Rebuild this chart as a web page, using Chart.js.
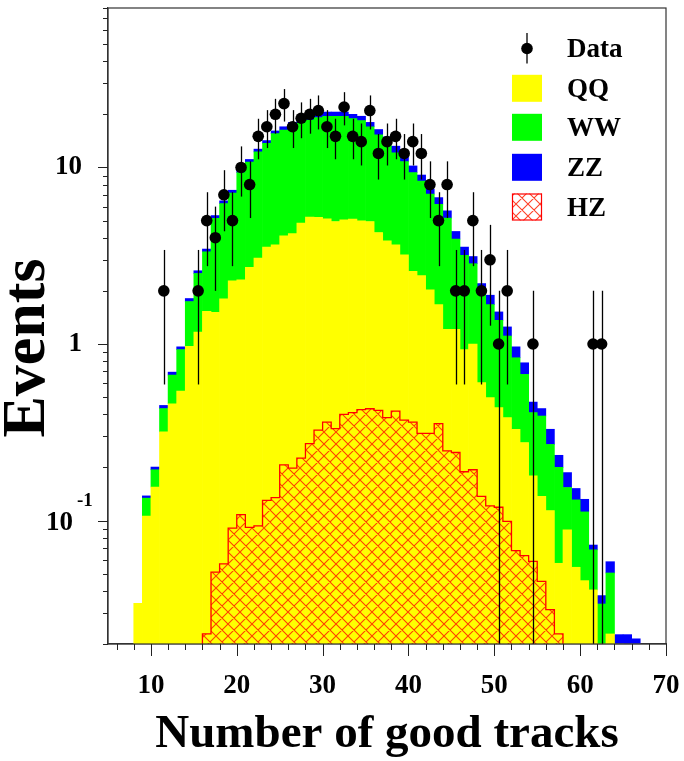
<!DOCTYPE html>
<html><head><meta charset="utf-8">
<script src="https://cdn.jsdelivr.net/npm/chart.js@4.4.1/dist/chart.umd.min.js"></script>
<style>html,body{margin:0;padding:0;background:#fff;}canvas{display:block;}</style>
</head><body>
<canvas id="c" width="684" height="761"></canvas>
<script>
// ---- data ----
const binCenters = [8.5, 9.5, 10.5, 11.5, 12.5, 13.5, 14.5, 15.5, 16.5, 17.5, 18.5, 19.5, 20.5, 21.5, 22.5, 23.5, 24.5, 25.5, 26.5, 27.5, 28.5, 29.5, 30.5, 31.5, 32.5, 33.5, 34.5, 35.5, 36.5, 37.5, 38.5, 39.5, 40.5, 41.5, 42.5, 43.5, 44.5, 45.5, 46.5, 47.5, 48.5, 49.5, 50.5, 51.5, 52.5, 53.5, 54.5, 55.5, 56.5, 57.5, 58.5, 59.5, 60.5, 61.5, 62.5, 63.5, 64.5, 65.5, 66.5];
const qqValues = [0.034, 0.106, 0.155, 0.318, 0.459, 0.541, 0.97, 1.17, 1.53, 1.51,
  1.80, 2.28, 2.31, 2.72, 3.07, 3.54, 3.65, 4.10, 4.22, 4.84,
  5.23, 5.21, 5.12, 4.94, 5.05, 5.10, 4.98, 4.94, 4.28, 3.84,
  3.65, 3.20, 2.58, 2.44, 2.03, 1.67, 1.21, 1.21, 0.93, 1.00,
  0.604, 0.497, 0.436, 0.383, 0.329, 0.277, 0.179, 0.137, 0.114, 0.0573,
  0.0887, 0.0544, 0.0457, 0.0405, 0.012, 0.0228, 0.008, 0.005, 0.004];
const wwValues = [0, 0.028, 0.039, 0.113, 0.208, 0.389, 0.77, 1.34, 1.80, 3.64,
  4.44, 4.89, 7.03, 7.99, 9.18, 10.16, 11.89, 12.2, 12.93, 13.02,
  13.29, 13.97, 14.35, 14.53, 14.42, 13.80, 13.45, 12.07, 11.02, 10.06,
  8.45, 7.60, 6.77, 5.94, 5.03, 4.52, 3.96, 2.72, 2.25, 1.85,
  1.376, 1.173, 0.924, 0.727, 0.507, 0.396, 0.230, 0.254, 0.156, 0.143,
  0.0653, 0.0766, 0.0663, 0.0278, 0.0217, 0.0277, 0.004, 0.005, 0.004];
const zzValues = [0, 0.004, 0.007, 0.018, 0.026, 0.034, 0.07, 0.09, 0.12, 0.19,
  0.23, 0.26, 0.34, 0.39, 0.45, 0.50, 0.56, 0.70, 0.85, 1.04,
  1.08, 1.12, 1.13, 1.13, 1.13, 1.10, 1.07, 0.99, 1.10, 1.00,
  1.10, 0.90, 0.85, 0.68, 0.48, 0.56, 0.51, 0.41, 0.36, 0.28,
  0.22, 0.22, 0.16, 0.14, 0.128, 0.110, 0.060, 0.040, 0.059, 0.034,
  0.033, 0.021, 0.020, 0.0044, 0.0039, 0.008, 0.0106, 0.0126, 0.0134];
const hzBinCenters = [16.5, 17.5, 18.5, 19.5, 20.5, 21.5, 22.5, 23.5, 24.5, 25.5, 26.5, 27.5, 28.5, 29.5, 30.5, 31.5, 32.5, 33.5, 34.5, 35.5, 36.5, 37.5, 38.5, 39.5, 40.5, 41.5, 42.5, 43.5, 44.5, 45.5, 46.5, 47.5, 48.5, 49.5, 50.5, 51.5, 52.5, 53.5, 54.5, 55.5, 56.5, 57.5];
const hzValues = [0.0228, 0.0510, 0.0568, 0.0907, 0.108, 0.0916, 0.0934, 0.130, 0.135, 0.207,
  0.198, 0.226, 0.273, 0.325, 0.361, 0.332, 0.400, 0.409, 0.425, 0.430,
  0.421, 0.383, 0.417, 0.371, 0.361, 0.312, 0.312, 0.354, 0.248, 0.243,
  0.189, 0.194, 0.137, 0.121, 0.119, 0.0990, 0.0676, 0.0633, 0.0588, 0.0453,
  0.0313, 0.0228];
const dataX = [11.5, 15.5, 16.5, 17.5, 18.5, 19.5, 20.5, 21.5, 22.5, 23.5, 24.5, 25.5, 26.5, 27.5, 28.5, 29.5, 30.5, 31.5, 32.5, 33.5, 34.5, 35.5, 36.5, 37.5, 38.5, 39.5, 40.5, 41.5, 42.5, 43.5, 44.5, 45.5, 46.5, 47.5, 48.5, 49.5, 50.5, 51.5, 54.5, 61.5, 62.5];
const dataY = [2, 2, 5, 4, 7, 5, 10, 8, 15, 17, 20, 23, 17, 19, 20, 21, 17, 15, 22, 15, 14, 21, 12, 14, 15, 12, 14, 12, 8, 5, 8, 2, 2, 5, 2, 3, 1, 2, 1, 1, 1];
const dataErr = [1.41, 1.41, 2.24, 2, 2.65, 2.24, 3.16, 2.83, 3.87, 4.12, 4.47, 4.80, 4.12, 4.36, 4.47, 4.58, 4.12, 3.87, 4.69, 3.87, 3.74, 4.58, 3.46, 3.74, 3.87, 3.46, 3.74, 3.46, 2.83, 2.24, 2.83, 1.41, 1.41, 2.24, 1.41, 1.73, 1, 1.41, 1, 1, 1];
const xTickLabels = [10, 20, 30, 40, 50, 60, 70];
const yTickLabels = [0.1, 1, 10];
const legendLabels = ['Data', 'QQ', 'WW', 'ZZ', 'HZ'];

// ---- styling ----
const FONT = 'Liberation Serif';
const yMin = 0.02, yMax = 80, xMin = 5, xMax = 70;
const canvas = document.getElementById('c');
const ctx = canvas.getContext('2d');

function makeHatch(size, color, lw) {
  const c = document.createElement('canvas');
  c.width = size; c.height = size;
  const g = c.getContext('2d');
  g.strokeStyle = color; g.lineWidth = lw;
  g.beginPath();
  for (const k of [-size, 0, size]) {
    g.moveTo(k, 0); g.lineTo(k + size, size);
    g.moveTo(k + size, 0); g.lineTo(k, size);
  }
  g.stroke();
  return ctx.createPattern(c, 'repeat');
}
const hatch = makeHatch(12, 'rgba(255,30,0,0.85)', 1.1);

const toXY = (xs, ys) => xs.map((x, i) => ({x: x, y: ys[i]}));
const hzPoints = [{x: hzBinCenters[0] - 0.5, y: yMin}]
  .concat(hzBinCenters.map((c, i) => ({x: c - 0.5, y: hzValues[i]})))
  .concat([{x: hzBinCenters[hzBinCenters.length - 1] + 0.5, y: yMin}]);

function noPad(s) { s.paddingTop = 0; s.paddingBottom = 0; s.paddingLeft = 0; s.paddingRight = 0; }

const decor = {
  id: 'decor',
  beforeDatasetDraw(chart, args) {
    const ds = chart.data.datasets[args.index];
    if (ds.label !== 'Data') return;
    const {ctx, chartArea: a, scales: {x, y}} = chart;
    ctx.save();
    ctx.beginPath(); ctx.rect(a.left, a.top, a.right - a.left, a.bottom - a.top); ctx.clip();
    ctx.strokeStyle = '#000'; ctx.lineWidth = 1.3;
    dataX.forEach((xv, i) => {
      const px = Math.round(x.getPixelForValue(xv)) + 0.5;
      const lo = dataY[i] - dataErr[i];
      const yTop = y.getPixelForValue(dataY[i] + dataErr[i]);
      const yBot = lo > 0 ? y.getPixelForValue(lo) : a.bottom;
      ctx.beginPath(); ctx.moveTo(px, yTop); ctx.lineTo(px, yBot); ctx.stroke();
    });
    ctx.restore();
  },
  afterDraw(chart) {
    const {ctx, chartArea: a, scales: {x, y}} = chart;
    ctx.save();
    ctx.strokeStyle = '#333'; ctx.lineWidth = 1.2;
    ctx.strokeRect(a.left, a.top, a.right - a.left, a.bottom - a.top);
    ctx.strokeStyle = '#222'; ctx.lineWidth = 1;
    ctx.beginPath();
    for (let e = -2; e <= 1; e++) {
      for (let m = 1; m <= 9; m++) {
        const v = m * Math.pow(10, e);
        if (v < yMin * 0.999 || v > yMax * 1.001) continue;
        const py = Math.round(y.getPixelForValue(v)) + 0.5;
        const len = m === 1 ? 10 : 5;
        ctx.moveTo(a.left - len, py); ctx.lineTo(a.left, py);
      }
    }
    for (let v = 6; v <= xMax; v += 2) {
      const px = Math.round(x.getPixelForValue(v)) + 0.5;
      const len = v % 10 === 0 ? 12 : 6;
      ctx.moveTo(px, a.bottom); ctx.lineTo(px, a.bottom + len);
    }
    ctx.stroke();
    ctx.fillStyle = '#000';
    const p01 = y.getPixelForValue(yTickLabels[0]);
    ctx.font = 'bold 27px "' + FONT + '"';
    ctx.textAlign = 'right'; ctx.textBaseline = 'middle';
    ctx.fillText('10', 73, p01 + 2);
    ctx.font = 'bold 19px "' + FONT + '"';
    ctx.textAlign = 'left';
    ctx.fillText('-1', 77, p01 - 19);
    ctx.save();
    ctx.translate(44, 348); ctx.rotate(-Math.PI / 2);
    ctx.font = 'bold 62px "' + FONT + '"';
    ctx.textAlign = 'center'; ctx.textBaseline = 'alphabetic';
    ctx.fillText('Events', 0, 0);
    ctx.restore();
    const lx = 512, lw = 30, lh = 27, tx = 567;
    const rows = [48.5, 88.3, 127.3, 167.3, 207];
    ctx.font = 'bold 27px "' + FONT + '"';
    ctx.textAlign = 'left'; ctx.textBaseline = 'middle';
    ctx.strokeStyle = '#000'; ctx.lineWidth = 1.3;
    ctx.beginPath(); ctx.moveTo(lx + lw / 2, rows[0] - 15.5); ctx.lineTo(lx + lw / 2, rows[0] + 15); ctx.stroke();
    ctx.fillStyle = '#000';
    ctx.beginPath(); ctx.arc(lx + lw / 2, rows[0], 5.8, 0, Math.PI * 2); ctx.fill();
    const fills = [null, '#ffff00', '#00ff00', '#0000ff', hatch];
    for (let i = 1; i < 5; i++) {
      const top = rows[i] - lh / 2;
      ctx.fillStyle = fills[i];
      ctx.fillRect(lx, top, lw, lh);
      if (i === 4) {
        ctx.strokeStyle = '#ff0000'; ctx.lineWidth = 1.2;
        ctx.strokeRect(lx + 0.5, top + 0.5, lw - 1, lh - 1);
      }
    }
    ctx.fillStyle = '#000';
    legendLabels.forEach((t, i) => ctx.fillText(t, tx, rows[i] + 2));
    ctx.restore();
  }
};

new Chart(ctx, {
  data: {
    datasets: [
      {type: 'bar', label: 'QQ', data: toXY(binCenters, qqValues), backgroundColor: '#ffff00', borderWidth: 0, order: 2, stack: 'mc', barPercentage: 1, categoryPercentage: 1},
      {type: 'bar', label: 'WW', data: toXY(binCenters, wwValues), backgroundColor: '#00ff00', borderWidth: 0, order: 2, stack: 'mc', barPercentage: 1, categoryPercentage: 1},
      {type: 'bar', label: 'ZZ', data: toXY(binCenters, zzValues), backgroundColor: '#0000ff', borderWidth: 0, order: 2, stack: 'mc', barPercentage: 1, categoryPercentage: 1},
      {type: 'line', label: 'HZ', data: hzPoints, stepped: 'before', borderColor: '#ff0000', borderWidth: 1.3,
        backgroundColor: hatch, fill: 'start', pointRadius: 0, tension: 0, order: 1, stack: 'hz'},
      {type: 'scatter', label: 'Data', data: toXY(dataX, dataY), backgroundColor: '#000', borderWidth: 0,
        pointRadius: 5.8, order: 0, stack: 'data'}
    ]
  },
  options: {
    responsive: false,
    devicePixelRatio: 1,
    animation: false,
    layout: {padding: {top: 8, right: 18, left: 0, bottom: 0}},
    plugins: {legend: {display: false}, tooltip: {enabled: false}},
    scales: {
      x: {
        type: 'linear', min: xMin, max: xMax, stacked: true, offset: false,
        grid: {display: false, drawTicks: false},
        border: {display: true, color: '#333', width: 1.2},
        ticks: {
          font: {family: FONT, size: 27, weight: 'bold'}, color: '#000', padding: 26,
          maxRotation: 0, autoSkip: false,
          callback: v => xTickLabels.includes(v) ? String(v) : ''
        },
        afterBuildTicks: s => { s.ticks = xTickLabels.map(v => ({value: v})); },
        afterFit: s => { s.height = 117; noPad(s); },
        title: {display: true, text: 'Number of good tracks', color: '#000',
          font: {family: FONT, size: 47, weight: 'bold', lineHeight: 1.12}, padding: {top: 0, bottom: 0}}
      },
      y: {
        type: 'logarithmic', min: yMin, max: yMax, stacked: true,
        grid: {display: false, drawTicks: false},
        border: {display: true, color: '#333', width: 1.2},
        ticks: {
          font: {family: FONT, size: 27, weight: 'bold'}, color: '#000', padding: 26, autoSkip: false,
          callback: v => (Math.abs(v - 10) < 1e-9 ? '10' : (Math.abs(v - 1) < 1e-9 ? '1' : ''))
        },
        afterBuildTicks: s => { s.ticks = yTickLabels.map(v => ({value: v})); },
        afterFit: s => { s.width = 108; noPad(s); }
      }
    }
  },
  plugins: [decor]
});
</script>
</body></html>
